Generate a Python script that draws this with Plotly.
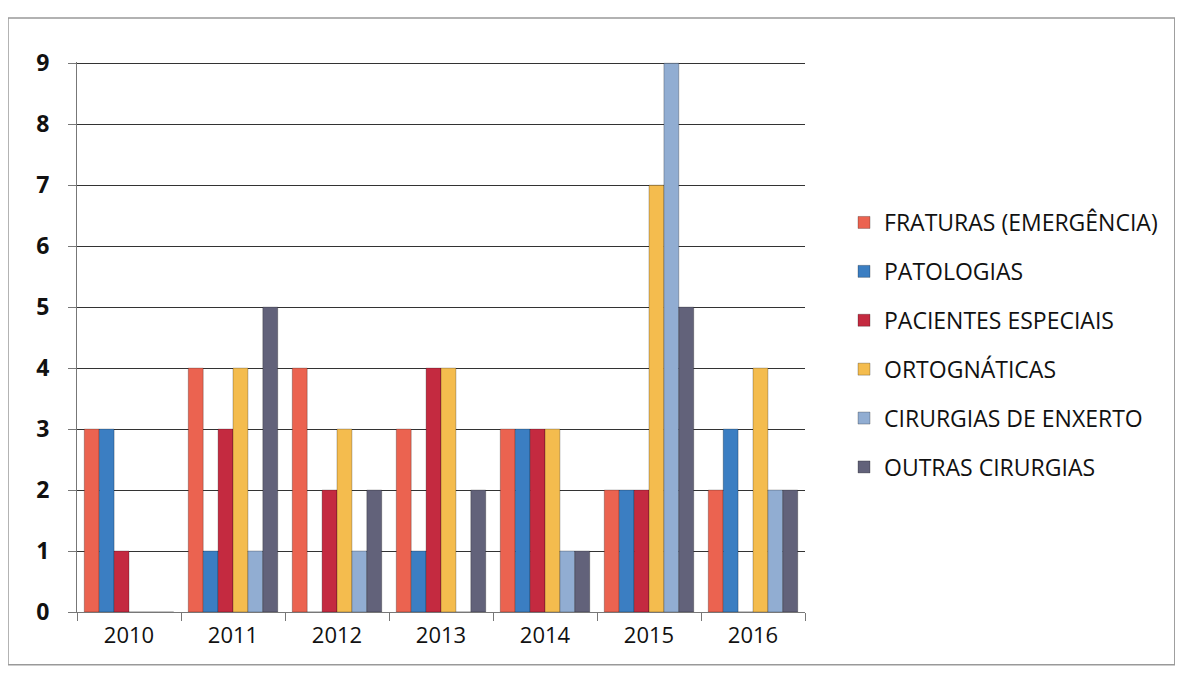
import plotly.graph_objects as go

years = ["2010", "2011", "2012", "2013", "2014", "2015", "2016"]
fraturas = [3, 4, 4, 3, 3, 2, 2]
patologias = [3, 1, 0, 1, 3, 2, 3]
pacientes = [1, 3, 2, 4, 3, 2, 0]
ortognaticas = [0, 4, 3, 4, 3, 7, 4]
enxerto = [0, 1, 1, 0, 1, 9, 2]
outras = [0, 5, 2, 2, 1, 5, 2]

series = [
    ("FRATURAS (EMERGÊNCIA)", fraturas, "#EB6350"),
    ("PATOLOGIAS", patologias, "#3B7EC2"),
    ("PACIENTES ESPECIAIS", pacientes, "#C42A40"),
    ("ORTOGNÁTICAS", ortognaticas, "#F4BC4E"),
    ("CIRURGIAS DE ENXERTO", enxerto, "#91ADD2"),
    ("OUTRAS CIRURGIAS", outras, "#62627A"),
]

fig = go.Figure()
for i, (name, vals, col) in enumerate(series):
    fig.add_trace(go.Bar(
        x=years, y=vals, name=name, legendgroup=str(i),
        marker=dict(color=col, line=dict(color="rgba(0,0,0,0.25)", width=1)),
    ))

fig.update_layout(
    width=1183, height=678,
    paper_bgcolor="white", plot_bgcolor="white",
    barmode="group", bargap=0.14, bargroupgap=0.0,
    margin=dict(l=69, r=386, t=54, b=74, autoexpand=False),
    font=dict(family="Open Sans, Noto Sans, sans-serif", color="#111"),
    legend=dict(
        xref="container", yref="container",
        x=0.7067, y=1 - 193 / 678, xanchor="left", yanchor="top",
        font=dict(size=23, color="#111"),
        tracegroupgap=16, itemwidth=30,
    ),
    xaxis=dict(
        automargin=False, tickson="boundaries",
        showgrid=False, showline=True, linecolor="#777", linewidth=1,
        ticks="outside", ticklen=8, tickcolor="#777", ticklabelstandoff=4,
        tickfont=dict(size=22, color="#111"),
    ),
    yaxis=dict(
        automargin=False,
        range=[0, 9.02], dtick=1, showgrid=True, gridcolor="#333", gridwidth=1.2,
        showline=True, linecolor="#777", linewidth=1,
        ticks="outside", ticklen=8, tickcolor="#777", ticklabelstandoff=14,
        tickfont=dict(size=23, color="#111", weight="bold"),
        zeroline=False,
    ),
    shapes=[
        dict(type="rect", xref="paper", yref="paper", x0=-0.0948, x1=1.508,
             y0=-0.096, y1=1.08, line=dict(color="#999", width=1.5)),
    ],
)

fig.write_html("out.html")
